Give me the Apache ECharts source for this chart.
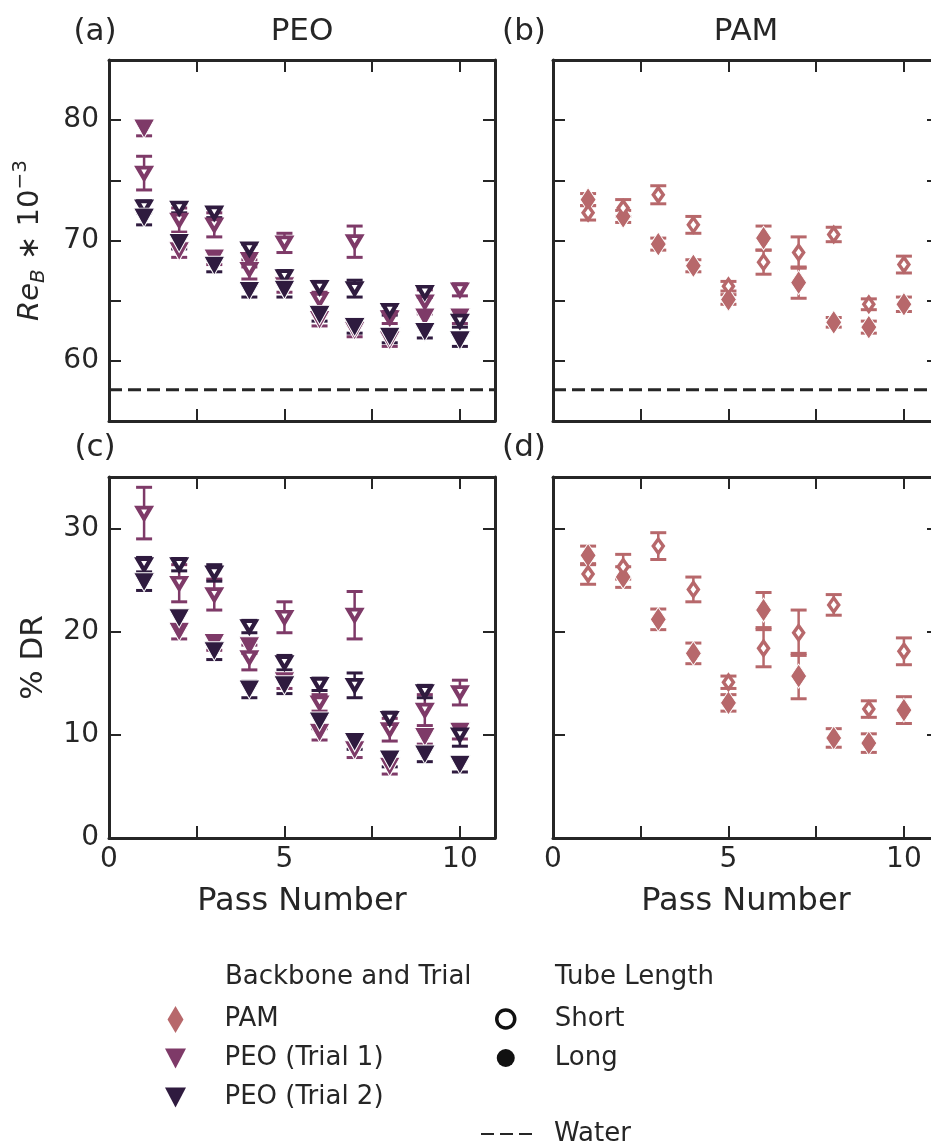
<!DOCTYPE html>
<html>
<head>
<meta charset="utf-8">
<script src="https://cdn.jsdelivr.net/npm/echarts@6/dist/echarts.min.js"></script>
<style>
  html, body { margin: 0; padding: 0; background: #fff; }
  #main { width: 931px; height: 1145px; }
</style>
</head>
<body>
<div id="main"></div>
<script>
const passNumber = [1, 2, 3, 4, 5, 6, 7, 8, 9, 10];
const waterRe = 57.6;

// (a) PEO, Re_B * 10^-3
const peo1ReLong = [79.3, 69.1, 68.5, 68.3, 66.2, 63.4, 62.5, 61.7, 63.6, 63.6];
const peo1ReLongErr = [0.6, 0.5, 0.5, 0.5, 0.5, 0.5, 0.5, 0.5, 0.5, 0.5];
const peo1ReShort = [75.6, 71.7, 71.3, 67.6, 69.8, 65.1, 69.9, 63.6, 64.9, 65.9];
const peo1ReShortErr = [1.4, 1.0, 1.0, 0.8, 0.8, 0.6, 1.3, 0.5, 1.0, 0.5];
const peo2ReShort = [72.8, 72.7, 72.3, 69.3, 67.0, 66.1, 66.0, 64.2, 65.7, 63.3];
const peo2ReShortErr = [0.5, 0.4, 0.4, 0.4, 0.5, 0.5, 0.7, 0.4, 0.4, 0.5];
const peo2ReLong = [71.9, 69.8, 67.9, 65.8, 65.9, 63.8, 62.8, 62.0, 62.4, 61.7];
const peo2ReLongErr = [0.6, 0.5, 0.5, 0.5, 0.6, 0.5, 0.5, 0.5, 0.5, 0.5];

// (b) PAM, Re_B * 10^-3
const pamReLong = [73.4, 72.0, 69.7, 67.9, 65.1, 70.2, 66.5, 63.2, 62.8, 64.7];
const pamReLongErr = [0.5, 0.5, 0.5, 0.5, 0.4, 1.0, 1.3, 0.4, 0.5, 0.6];
const pamReShort = [72.3, 72.7, 73.8, 71.3, 66.2, 68.2, 69.0, 70.5, 64.7, 68.0];
const pamReShortErr = [0.6, 0.7, 0.75, 0.7, 0.4, 1.0, 1.3, 0.6, 0.45, 0.7];

// (c) PEO, % DR
const peo1DrLong = [null, 20.0, 18.9, 18.6, 15.2, 10.2, 8.5, 6.9, 9.8, 10.3];
const peo1DrLongErr = [0.7, 0.7, 0.7, 0.7, 0.7, 0.7, 0.7, 0.7, 0.7, 0.7];
const peo1DrShort = [31.5, 24.7, 23.6, 17.5, 21.4, 13.1, 21.6, 10.5, 12.4, 14.1];
const peo1DrShortErr = [2.5, 1.8, 1.5, 1.2, 1.5, 0.8, 2.3, 1.1, 1.5, 1.2];
const peo2DrShort = [26.5, 26.5, 25.7, 20.5, 17.0, 14.9, 14.8, 11.6, 14.2, 10.0];
const peo2DrShortErr = [0.7, 0.6, 0.8, 0.6, 0.7, 0.6, 1.2, 0.6, 0.6, 1.1];
const peo2DrLong = [24.8, 21.3, 18.1, 14.4, 14.8, 11.3, 9.3, 7.6, 8.1, 7.1];
const peo2DrLongErr = [0.8, 0.7, 0.8, 0.8, 0.8, 0.7, 0.7, 0.7, 0.7, 0.7];

// (d) PAM, % DR
const pamDrLong = [27.4, 25.3, 21.2, 17.9, 13.1, 22.1, 15.7, 9.7, 9.2, 12.4];
const pamDrLongErr = [0.9, 1.0, 1.0, 1.0, 0.8, 1.7, 2.2, 0.9, 0.9, 1.3];
const pamDrShort = [25.6, 26.3, 28.3, 24.1, 15.1, 18.4, 19.9, 22.6, 12.5, 18.1];
const pamDrShortErr = [1.0, 1.2, 1.3, 1.2, 0.6, 1.8, 2.2, 1.0, 0.8, 1.3];

const xRange = [0, 11, 2.5];
const reRange = [55, 85, 5];
const drRange = [0, 35, 10];
const xTickLabels = [0, 5, 10];
const reTickLabels = [60, 70, 80];
const drTickLabels = [0, 10, 20, 30];

const FONT = 'DejaVu Sans';
const AXIS = '#262626';
const C_PAM = '#b7686b';
const C_PEO1 = '#7e3a68';
const C_PEO2 = '#2f1b3f';
const TRI = 'path://M0,0 L20,0 L10,18 Z';
const DIA = 'path://M6,0 L12,10 L6,20 L0,10 Z';

const grids = [
  { left: 109, top: 60, width: 386, height: 361 },
  { left: 553, top: 60, width: 386, height: 361 },
  { left: 109, top: 477, width: 386, height: 361 },
  { left: 553, top: 477, width: 386, height: 361 }
];

function xAxisFor(g, pos) {
  const labelled = pos === 'bottom' && g >= 2;
  return {
    type: 'value', gridIndex: g, position: pos,
    min: xRange[0], max: xRange[1], interval: xRange[2],
    axisLine: { show: true, onZero: false, lineStyle: { color: AXIS, width: 3 } },
    axisTick: { show: true, inside: true, length: 12, lineStyle: { color: AXIS, width: 2 } },
    axisLabel: {
      show: labelled, fontSize: 28, color: AXIS, fontFamily: FONT, margin: 8,
      formatter: v => (xTickLabels.includes(v) ? String(v) : '')
    },
    splitLine: { show: false },
    name: labelled ? 'Pass Number' : '',
    nameLocation: 'middle', nameGap: 48,
    nameTextStyle: { fontSize: 32, color: AXIS, fontFamily: FONT }
  };
}

function yAxisFor(g, pos) {
  const row = g < 2 ? reRange : drRange;
  const labels = g < 2 ? reTickLabels : drTickLabels;
  const labelled = pos === 'left' && (g === 0 || g === 2);
  const ax = {
    type: 'value', gridIndex: g, position: pos,
    min: row[0], max: row[1], interval: row[2],
    axisLine: { show: true, onZero: false, lineStyle: { color: AXIS, width: 3 } },
    axisTick: { show: true, inside: true, length: 12, lineStyle: { color: AXIS, width: 2 } },
    axisLabel: {
      show: labelled, fontSize: 28, color: AXIS, fontFamily: FONT, margin: 10,
      formatter: v => (labels.includes(v) ? String(v) : '')
    },
    splitLine: { show: false }
  };
  if (labelled) {
    ax.nameLocation = 'middle';
    ax.nameRotate = 90;
    ax.nameGap = 60;
    if (g === 0) {
      ax.name = '{i|Re}{s|B}{n| \u2217 10}{p|\u22123}';
      ax.nameTextStyle = {
        fontSize: 29, color: AXIS, fontFamily: FONT,
        rich: {
          i: { fontSize: 29, fontStyle: 'italic', fontFamily: FONT, color: AXIS, lineHeight: 38 },
          s: { fontSize: 20, fontStyle: 'italic', fontFamily: FONT, color: AXIS, lineHeight: 20, verticalAlign: 'bottom' },
          n: { fontSize: 29, fontFamily: FONT, color: AXIS, lineHeight: 38 },
          p: { fontSize: 20, fontFamily: FONT, color: AXIS, lineHeight: 19, verticalAlign: 'top' }
        }
      };
    } else {
      ax.name = '% DR';
      ax.nameTextStyle = { fontSize: 31, color: AXIS, fontFamily: FONT };
    }
  }
  return ax;
}

function pairs(ys, extra) {
  return passNumber.map((x, i) => (extra ? [x, ys[i], extra[i]] : [x, ys[i]]))
    .filter(d => d[1] !== null);
}

function errBars(g, ys, errs, color) {
  return {
    type: 'custom', xAxisIndex: 2 * g, yAxisIndex: 2 * g, silent: true, clip: true,
    data: pairs(ys, errs),
    encode: { x: 0, y: 1 },
    renderItem: (params, api) => {
      const x = api.value(0), y = api.value(1), e = api.value(2);
      const hi = api.coord([x, y + e]);
      const lo = api.coord([x, y - e]);
      const hw = 8;
      return {
        type: 'group',
        children: [
          { type: 'line', shape: { x1: hi[0], y1: hi[1], x2: lo[0], y2: lo[1] }, style: { stroke: color, lineWidth: 2.5 } },
          { type: 'line', shape: { x1: hi[0] - hw, y1: hi[1], x2: hi[0] + hw, y2: hi[1] }, style: { stroke: color, lineWidth: 3 } },
          { type: 'line', shape: { x1: lo[0] - hw, y1: lo[1], x2: lo[0] + hw, y2: lo[1] }, style: { stroke: color, lineWidth: 3 } }
        ]
      };
    }
  };
}

function points(g, name, ys, color, shape, open) {
  const tri = shape === 'tri';
  return {
    type: 'scatter', name: name, xAxisIndex: 2 * g, yAxisIndex: 2 * g,
    data: pairs(ys),
    symbol: tri ? TRI : DIA,
    symbolSize: open ? (tri ? [13, 11] : [10, 14]) : (tri ? [21, 19] : [16, 24]),
    itemStyle: open
      ? { color: '#ffffff', borderColor: color, borderWidth: tri ? 4 : 3.5, opacity: 1 }
      : { color: color, borderColor: '#ffffff', borderWidth: 1, opacity: 1 },
    emphasis: { disabled: true },
    clip: true
  };
}

function water(g) {
  return {
    type: 'line', name: 'Water', xAxisIndex: 2 * g, yAxisIndex: 2 * g,
    data: [[xRange[0], waterRe], [xRange[1], waterRe]],
    symbol: 'none', silent: true,
    itemStyle: { color: AXIS },
    lineStyle: { color: AXIS, width: 3, type: [13, 6] }
  };
}

const series = [
  water(0),
  errBars(0, peo1ReLong, peo1ReLongErr, C_PEO1), points(0, 'PEO (Trial 1)', peo1ReLong, C_PEO1, 'tri', false),
  errBars(0, peo1ReShort, peo1ReShortErr, C_PEO1), points(0, 'PEO1 short a', peo1ReShort, C_PEO1, 'tri', true),
  errBars(0, peo2ReShort, peo2ReShortErr, C_PEO2), points(0, 'PEO2 short a', peo2ReShort, C_PEO2, 'tri', true),
  errBars(0, peo2ReLong, peo2ReLongErr, C_PEO2), points(0, 'PEO (Trial 2)', peo2ReLong, C_PEO2, 'tri', false),

  water(1),
  errBars(1, pamReLong, pamReLongErr, C_PAM), points(1, 'PAM', pamReLong, C_PAM, 'dia', false),
  errBars(1, pamReShort, pamReShortErr, C_PAM), points(1, 'PAM short b', pamReShort, C_PAM, 'dia', true),

  errBars(2, peo1DrLong, peo1DrLongErr, C_PEO1), points(2, 'PEO1 long c', peo1DrLong, C_PEO1, 'tri', false),
  errBars(2, peo1DrShort, peo1DrShortErr, C_PEO1), points(2, 'PEO1 short c', peo1DrShort, C_PEO1, 'tri', true),
  errBars(2, peo2DrShort, peo2DrShortErr, C_PEO2), points(2, 'PEO2 short c', peo2DrShort, C_PEO2, 'tri', true),
  errBars(2, peo2DrLong, peo2DrLongErr, C_PEO2), points(2, 'PEO2 long c', peo2DrLong, C_PEO2, 'tri', false),

  errBars(3, pamDrLong, pamDrLongErr, C_PAM), points(3, 'PAM long d', pamDrLong, C_PAM, 'dia', false),
  errBars(3, pamDrShort, pamDrShortErr, C_PAM), points(3, 'PAM short d', pamDrShort, C_PAM, 'dia', true),

  // legend-only entries
  { type: 'scatter', name: 'Short', xAxisIndex: 0, yAxisIndex: 0, data: [], symbol: 'circle',
    itemStyle: { color: '#ffffff', borderColor: '#111111', borderWidth: 3.5 } },
  { type: 'scatter', name: 'Long', xAxisIndex: 0, yAxisIndex: 0, data: [], symbol: 'circle',
    itemStyle: { color: '#111111' } }
];

const legendText = { fontSize: 26, color: AXIS, fontFamily: FONT };

const option = {
  animation: false,
  backgroundColor: '#ffffff',
  textStyle: { fontFamily: FONT },
  grid: grids.map(g => Object.assign({ containLabel: false, outerBoundsMode: 'none' }, g)),
  xAxis: [0, 1, 2, 3].flatMap(g => [xAxisFor(g, 'bottom'), xAxisFor(g, 'top')]),
  yAxis: [0, 1, 2, 3].flatMap(g => [yAxisFor(g, 'left'), yAxisFor(g, 'right')]),
  legend: [
    {
      orient: 'vertical', left: 157, top: 1001, itemWidth: 88, itemHeight: 27, itemGap: 12,
      selectedMode: false, symbolKeepAspect: true,
      textStyle: Object.assign({ lineHeight: 27 }, legendText),
      data: [
        { name: 'PAM', icon: 'path://M8,0 L16,13.5 L8,27 L0,13.5 Z', itemStyle: { color: C_PAM, borderWidth: 0 } },
        { name: 'PEO (Trial 1)', icon: 'path://M-3,-3.5 M0,0 L21,0 L10.5,20 Z M24,23.5', itemStyle: { color: C_PEO1, borderWidth: 0 } },
        { name: 'PEO (Trial 2)', icon: 'path://M-3,-3.5 M0,0 L21,0 L10.5,20 Z M24,23.5', itemStyle: { color: C_PEO2, borderWidth: 0 } }
      ]
    },
    {
      orient: 'vertical', left: 490, top: 1001, itemWidth: 88, itemHeight: 18, itemGap: 13,
      selectedMode: false, symbolKeepAspect: true,
      textStyle: Object.assign({ lineHeight: 18 }, legendText),
      data: [
        { name: 'Short', icon: 'circle', itemStyle: { color: '#ffffff', borderColor: '#111111', borderWidth: 3.5, opacity: 1 } },
        { name: 'Long', icon: 'circle', itemStyle: { color: '#111111', borderWidth: 0, opacity: 1 } }
      ]
    },
    {
      orient: 'vertical', left: 475, top: 1116, itemWidth: 53, itemHeight: 14,
      selectedMode: false,
      textStyle: Object.assign({ lineHeight: 14, padding: [0, 0, 0, 15] }, legendText),
      data: [{ name: 'Water', itemStyle: { opacity: 0 } }]
    }
  ],
  graphic: [
    { type: 'text', x: 95, y: 32, style: { text: '(a)', fontSize: 31, fontFamily: FONT, fill: AXIS, align: 'center', verticalAlign: 'middle' } },
    { type: 'text', x: 302, y: 32, style: { text: 'PEO', fontSize: 31, fontFamily: FONT, fill: AXIS, align: 'center', verticalAlign: 'middle' } },
    { type: 'text', x: 524, y: 32, style: { text: '(b)', fontSize: 31, fontFamily: FONT, fill: AXIS, align: 'center', verticalAlign: 'middle' } },
    { type: 'text', x: 746, y: 32, style: { text: 'PAM', fontSize: 31, fontFamily: FONT, fill: AXIS, align: 'center', verticalAlign: 'middle' } },
    { type: 'text', x: 95, y: 448, style: { text: '(c)', fontSize: 31, fontFamily: FONT, fill: AXIS, align: 'center', verticalAlign: 'middle' } },
    { type: 'text', x: 524, y: 448, style: { text: '(d)', fontSize: 31, fontFamily: FONT, fill: AXIS, align: 'center', verticalAlign: 'middle' } },
    { type: 'text', x: 225, y: 977, style: { text: 'Backbone and Trial', fontSize: 26, fontFamily: FONT, fill: AXIS, align: 'left', verticalAlign: 'middle' } },
    { type: 'text', x: 555, y: 977, style: { text: 'Tube Length', fontSize: 26, fontFamily: FONT, fill: AXIS, align: 'left', verticalAlign: 'middle' } }
  ],
  series: series
};

const chart = echarts.init(document.getElementById('main'), null, { renderer: 'canvas' });
chart.setOption(option);
</script>
</body>
</html>
